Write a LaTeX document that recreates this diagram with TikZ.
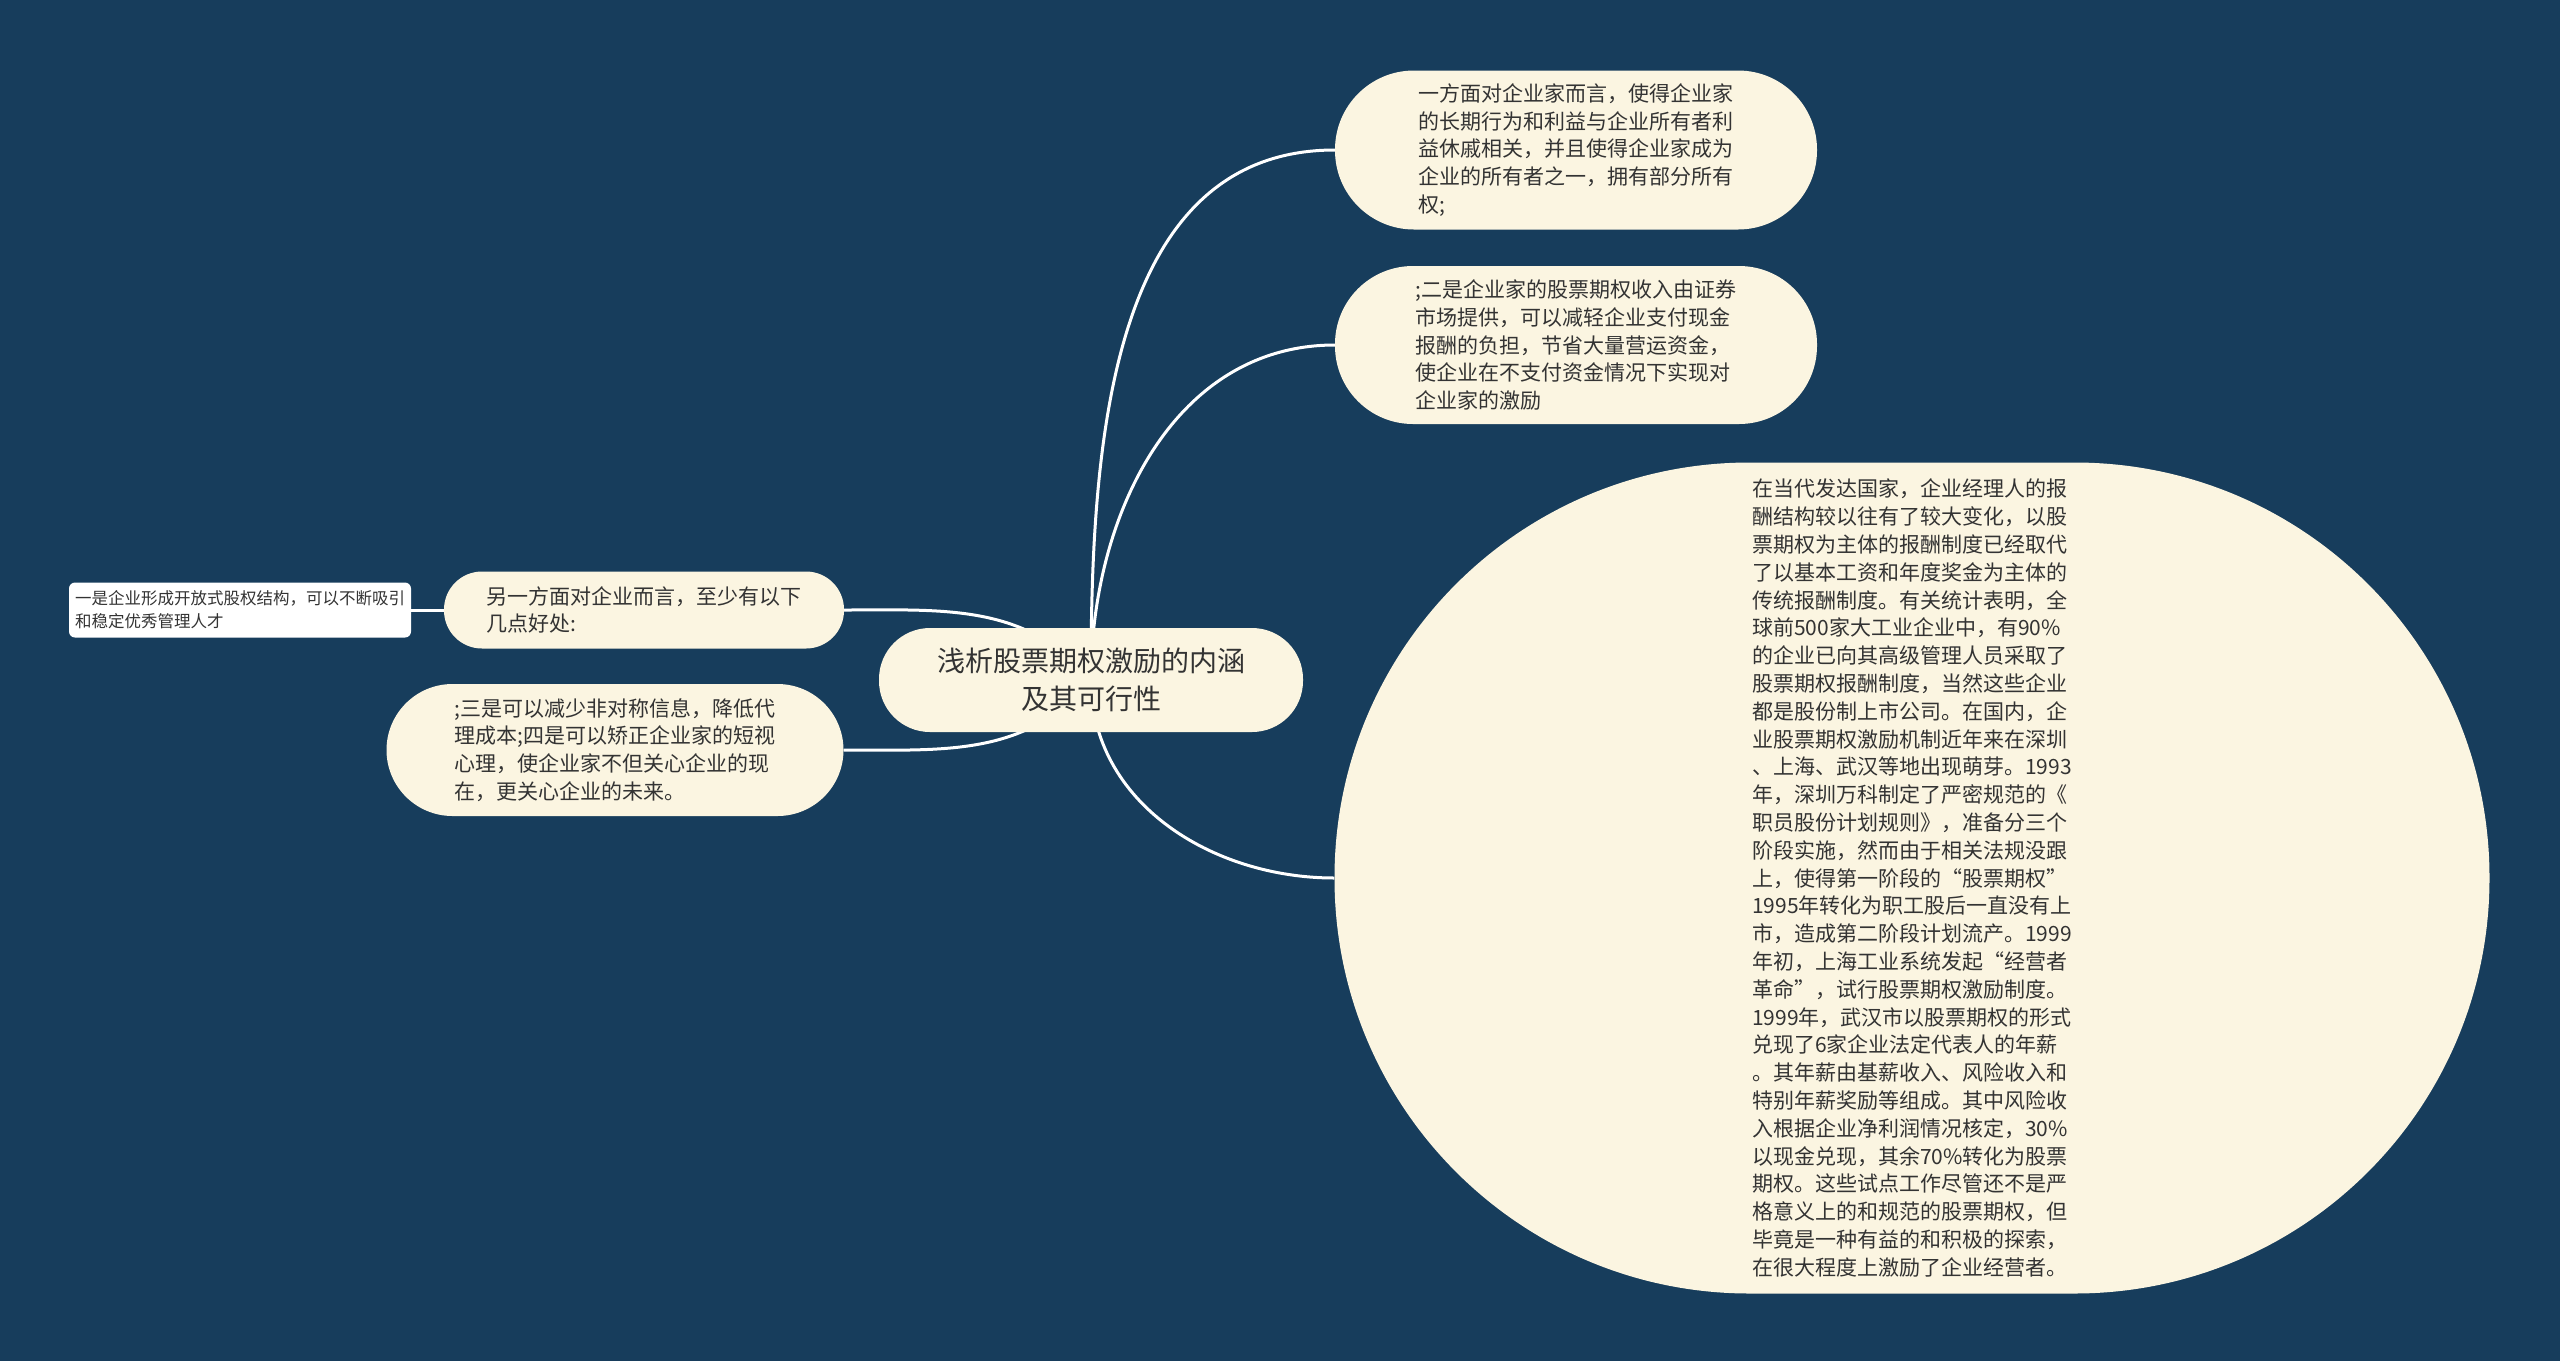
\documentclass[tikz,border=0pt]{standalone}
\usepackage{fontspec}
\newfontfamily\cjk{Noto Sans CJK SC}
\usetikzlibrary{backgrounds}
\definecolor{bgblue}{HTML}{173D5C}
\definecolor{cream}{HTML}{FBF5E1}
\definecolor{ink}{HTML}{333333}
\tikzset{
  topic/.style={fill=cream, text=ink, inner sep=0pt, align=left,
    font=\cjk\fontsize{21}{27.8}\selectfont},
  leaf/.style={fill=white, text=ink, inner sep=0pt, align=left, rounded corners=6pt,
    font=\cjk\fontsize{16.5}{23}\selectfont},
  link/.style={draw=white, line width=3pt},
}
\begin{document}
\begin{tikzpicture}[x=1pt,y=-1pt]
    \useasboundingbox (0,0) rectangle (2560,1361);
    % central topic
    \node[topic, align=center, minimum width=424pt, minimum height=104pt, rounded corners=51pt,
      font=\cjk\fontsize{28}{38}\selectfont] (root) at (1091,680)
      {浅析股票期权激励的内涵\\及其可行性};
    % right side
    \node[topic, minimum width=482pt, minimum height=159pt, rounded corners=79pt] (own) at (1576,150)
      {一方面对企业家而言，使得企业家\\的长期行为和利益与企业所有者利\\益休戚相关，并且使得企业家成为\\企业的所有者之一，拥有部分所有\\权;};
    \node[topic, minimum width=482pt, minimum height=158pt, rounded corners=78pt] (market) at (1576,345)
      {;二是企业家的股票期权收入由证券\\市场提供，可以减轻企业支付现金\\报酬的负担，节省大量营运资金，\\使企业在不支付资金情况下实现对\\企业家的激励};
    \node[topic, minimum width=1155pt, minimum height=831pt, rounded corners=415pt] (story) at (1912,878)
      {在当代发达国家，企业经理人的报\\酬结构较以往有了较大变化，以股\\票期权为主体的报酬制度已经取代\\了以基本工资和年度奖金为主体的\\传统报酬制度。有关统计表明，全\\球前500家大工业企业中，有90\%\\的企业已向其高级管理人员采取了\\股票期权报酬制度，当然这些企业\\都是股份制上市公司。在国内，企\\业股票期权激励机制近年来在深圳\\、上海、武汉等地出现萌芽。1993\\年，深圳万科制定了严密规范的《\\职员股份计划规则》，准备分三个\\阶段实施，然而由于相关法规没跟\\上，使得第一阶段的“股票期权”\\1995年转化为职工股后一直没有上\\市，造成第二阶段计划流产。1999\\年初，上海工业系统发起“经营者\\革命”，试行股票期权激励制度。\\1999年，武汉市以股票期权的形式\\兑现了6家企业法定代表人的年薪\\。其年薪由基薪收入、风险收入和\\特别年薪奖励等组成。其中风险收\\入根据企业净利润情况核定，30\%\\以现金兑现，其余70\%转化为股票\\期权。这些试点工作尽管还不是严\\格意义上的和规范的股票期权，但\\毕竟是一种有益的和积极的探索，\\在很大程度上激励了企业经营者。};
    % left side
    \node[topic, minimum width=400pt, minimum height=77pt, rounded corners=38pt] (firm) at (644,610)
      {另一方面对企业而言，至少有以下\\几点好处:};
    \node[leaf, minimum width=342pt, minimum height=55pt] (talent) at (240,610)
      {一是企业形成开放式股权结构，可以不断吸引\\和稳定优秀管理人才};
    \node[topic, minimum width=457pt, minimum height=132pt, rounded corners=66pt] (cost) at (615,750)
      {;三是可以减少非对称信息，降低代\\理成本;四是可以矫正企业家的短视\\心理，使企业家不但关心企业的现\\在，更关心企业的未来。};
    \begin{scope}[on background layer]
        \fill[bgblue] (0,0) rectangle (2560,1361);
        \draw[link] (root.center) to[out=90,in=180] (own.west);
        \draw[link] (root.center) to[out=90,in=180] (market.west);
        \draw[link] (root.center) to[out=-90,in=180] (story.west);
        \draw[link] (root.center) to[out=130,in=0] (firm.east);
        \draw[link] (root.center) to[out=-130,in=0] (cost.east);
        \draw[link] (firm.west) -- (talent.east);
    \end{scope}
\end{tikzpicture}
\end{document}
